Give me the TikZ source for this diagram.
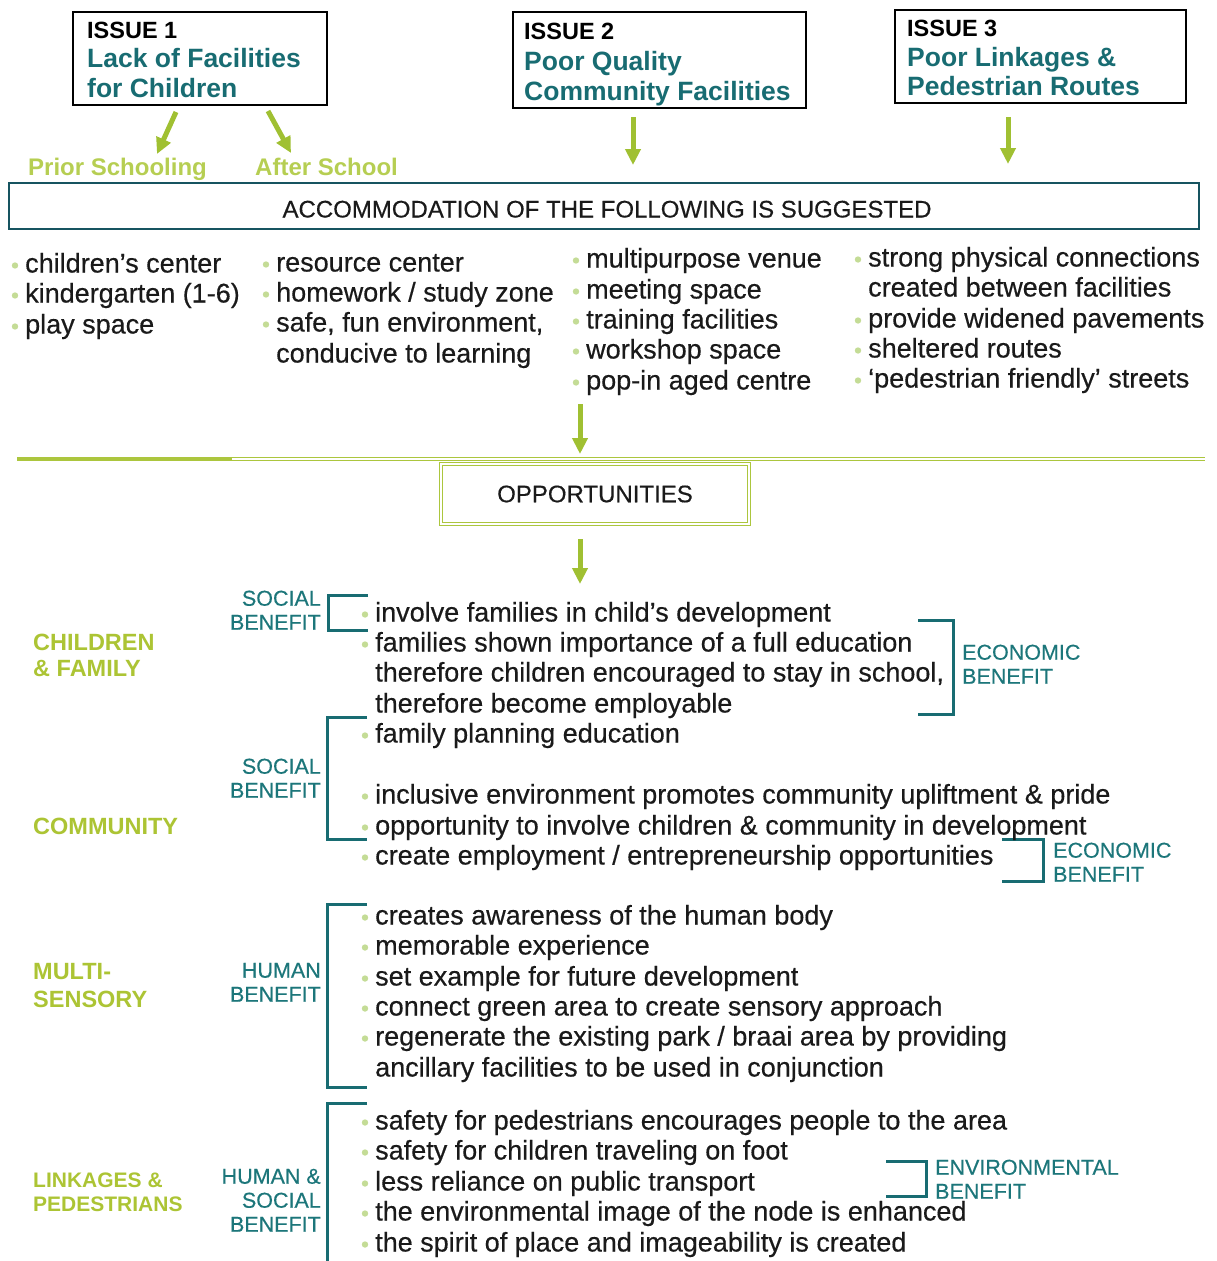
\documentclass[tikz,border=0pt]{standalone}
\usepackage{fontspec}
\setmainfont{Liberation Sans}
\newfontfamily\heavyfont[FakeBold=0.45]{Liberation Sans}
\usetikzlibrary{arrows.meta}
\definecolor{tealc}{RGB}{24,108,114}
\definecolor{tealt}{RGB}{28,118,122}
\definecolor{hdr}{RGB}{22,84,96}
\definecolor{gline}{RGB}{172,198,62}
\definecolor{garr}{RGB}{160,192,50}
\definecolor{glab}{RGB}{172,196,52}
\definecolor{gsub}{RGB}{182,206,82}
\definecolor{bulc}{RGB}{196,220,150}
\definecolor{inkc}{RGB}{26,26,26}
\newcommand\itm[4]{\fill[bulc] (#2-10,#3+2.5) circle (3.2);
  \node[item] (#1) at (#2,#3+9.5) {#4};}
\newcommand\itn[4]{\node[item] (#1) at (#2,#3+9.5) {#4};}
\newcommand\benR[4]{\node[ben, anchor=base east] (#1) at (#2,#3+7.7) {#4};}
\newcommand\benL[4]{\node[ben, anchor=base west] (#1) at (#2,#3+7.7) {#4};}
\begin{document}
\begin{tikzpicture}[x=1pt,y=-1pt,
  item/.style={anchor=base west, inner sep=0pt, text=inkc, font=\heavyfont\fontsize{27}{30}\selectfont},
  issuehd/.style={anchor=base west, inner sep=0pt, text=black, font=\bfseries\fontsize{23.5}{26}\selectfont},
  issuetx/.style={anchor=base west, inner sep=0pt, text=tealc, font=\bfseries\fontsize{26.5}{30}\selectfont},
  ibox/.style={draw=black, line width=2.5pt, rectangle, inner sep=0pt},
  sub/.style={anchor=base west, inner sep=0pt, text=gsub, font=\bfseries\fontsize{24}{27}\selectfont},
  cat/.style={anchor=base west, inner sep=0pt, text=glab, font=\bfseries\fontsize{23.5}{26}\selectfont},
  catsm/.style={anchor=base west, inner sep=0pt, text=glab, font=\bfseries\fontsize{21}{24}\selectfont},
  ben/.style={inner sep=0pt, text=tealt, font=\heavyfont\fontsize{21.5}{24}\selectfont},
  sect/.style={inner sep=0pt, text=inkc, font=\heavyfont\fontsize{24}{27}\selectfont},
  garrow/.style={draw=garr, line width=5pt, -{Triangle[length=16pt,width=15pt]}},
  brk/.style={draw=tealc, line width=3pt, line cap=butt, line join=miter}]
\useasboundingbox (0,0) rectangle (1216,1261);

% ---------- issue boxes ----------
\node[ibox, minimum width=254pt, minimum height=93pt] (b1) at (200,58.5) {};
\node[issuehd] (b1h) at (87,38.5) {ISSUE 1};
\node[issuetx] (b1a) at (87,67.5) {Lack of Facilities};
\node[issuetx] (b1b) at (87,97.5) {for Children};

\node[ibox, minimum width=293pt, minimum height=96pt] (b2) at (659.5,60) {};
\node[issuehd] (b2h) at (524,39.5) {ISSUE 2};
\node[issuetx] (b2a) at (524,70.5) {Poor Quality};
\node[issuetx] (b2b) at (524,100.5) {Community Facilities};

\node[ibox, minimum width=291pt, minimum height=93pt] (b3) at (1040.5,56.5) {};
\node[issuehd] (b3h) at (907,36.5) {ISSUE 3};
\node[issuetx] (b3a) at (907,66.5) {Poor Linkages \&};
\node[issuetx] (b3b) at (907,95.5) {Pedestrian Routes};

% ---------- arrows below issues ----------
\coordinate (a1s) at (176,112);
\coordinate (a1e) at (157,154);
\coordinate (a2s) at (268,111);
\coordinate (a2e) at (291,153);
\coordinate (a3s) at (633,117);
\coordinate (a3e) at (633,165);
\coordinate (a4s) at (1008,117);
\coordinate (a4e) at (1008,164);
\draw[garrow] (a1s) -- (a1e);
\draw[garrow] (a2s) -- (a2e);
\draw[garrow] (a3s) -- (a3e);
\draw[garrow] (a4s) -- (a4e);

\node[sub] (ps) at (28,175) {Prior Schooling};
\node[sub] (as) at (255,175) {After School};

% ---------- header bar ----------
\node[draw=hdr, line width=2.2pt, minimum width=1190pt, minimum height=46pt, inner sep=0pt] (acc) at (604,206) {};
\node[sect, anchor=base] (acct) at (607,217.5) {ACCOMMODATION OF THE FOLLOWING IS SUGGESTED};

% ---------- columns ----------
\itm{c11}{25}{263}{children’s center}
\itm{c12}{25}{293}{kindergarten (1-6)}
\itm{c13}{25}{324}{play space}

\itm{c21}{276}{262}{resource center}
\itm{c22}{276}{292}{homework / study zone}
\itm{c23}{276}{322}{safe, fun environment,}
\itn{c24}{276}{353}{conducive to learning}

\itm{c31}{586}{258}{multipurpose venue}
\itm{c32}{586}{289}{meeting space}
\itm{c33}{586}{319}{training facilities}
\itm{c34}{586}{349}{workshop space}
\itm{c35}{586}{380}{pop-in aged centre}

\itm{c41}{868}{257}{strong physical connections}
\itn{c42}{868}{287}{created between facilities}
\itm{c43}{868}{318}{provide widened pavements}
\itm{c44}{868}{348}{sheltered routes}
\itm{c45}{868}{378}{‘pedestrian friendly’ streets}

% ---------- opportunities ----------
\coordinate (a5s) at (580,404);
\coordinate (a5e) at (580,454);
\draw[garrow] (a5s) -- (a5e);

\draw[draw=gline, line width=4pt] (17,459) -- (232,459);
\draw[draw=gline, line width=1pt, double=white, double distance=1.5pt] (232,459) -- (1205,459);

\node[draw=gline, line width=1pt, double=white, double distance=2pt, minimum width=308pt, minimum height=60pt, inner sep=0pt, sect] (opp) at (595,494) {OPPORTUNITIES};

\coordinate (a6s) at (580,539);
\coordinate (a6e) at (580,584);
\draw[garrow] (a6s) -- (a6e);

% ---------- categories ----------
\node[cat] (k1a) at (33,650.5) {CHILDREN};
\node[cat] (k1b) at (33,676.5) {\& FAMILY};
\node[cat] (k2) at (33,834.5) {COMMUNITY};
\node[cat] (k3a) at (33,979.5) {MULTI-};
\node[cat] (k3b) at (33,1007.5) {SENSORY};
\node[catsm] (k4a) at (33,1187) {LINKAGES \&};
\node[catsm] (k4b) at (33,1211) {PEDESTRIANS};

% ---------- benefit labels ----------
\benR{s1a}{321}{598}{SOCIAL}
\benR{s1b}{321}{622}{BENEFIT}
\benR{s2a}{321}{766}{SOCIAL}
\benR{s2b}{321}{790}{BENEFIT}
\benR{h1a}{321}{970}{HUMAN}
\benR{h1b}{321}{994}{BENEFIT}
\benR{h2a}{321}{1176}{HUMAN \&}
\benR{h2b}{321}{1200}{SOCIAL}
\benR{h2c}{321}{1224}{BENEFIT}
\benL{e1a}{962}{652}{ECONOMIC}
\benL{e1b}{962}{676}{BENEFIT}
\benL{e2a}{1053}{850}{ECONOMIC}
\benL{e2b}{1053}{874}{BENEFIT}
\benL{v1a}{935}{1167}{ENVIRONMENTAL}
\benL{v1b}{935}{1191}{BENEFIT}

% ---------- brackets ----------
\draw[brk] (368,595) -- (328,595) -- (328,630) -- (368,630);
\draw[brk] (367,717) -- (327,717) -- (327,839) -- (367,839);
\draw[brk] (367,904) -- (327,904) -- (327,1087) -- (367,1087);
\draw[brk] (367,1103) -- (327,1103) -- (327,1261);
\draw[brk] (918,620) -- (953,620) -- (953,714) -- (918,714);
\draw[brk] (1002,839) -- (1043,839) -- (1043,881) -- (1002,881);
\draw[brk] (886,1161) -- (926,1161) -- (926,1196) -- (886,1196);

% ---------- opportunity items ----------
\itm{o1}{375}{612}{involve families in child’s development}
\itm{o2}{375}{642}{families shown importance of a full education}
\itn{o3}{375}{672}{therefore children encouraged to stay in school,}
\itn{o4}{375}{703}{therefore become employable}
\itm{o5}{375}{733}{family planning education}
\itm{o6}{375}{794}{inclusive environment promotes community upliftment \& pride}
\itm{o7}{375}{825}{opportunity to involve children \& community in development}
\itm{o8}{375}{855}{create employment / entrepreneurship opportunities}
\itm{o9}{375}{915}{creates awareness of the human body}
\itm{o10}{375}{945}{memorable experience}
\itm{o11}{375}{976}{set example for future development}
\itm{o12}{375}{1006}{connect green area to create sensory approach}
\itm{o13}{375}{1036}{regenerate the existing park / braai area by providing}
\itn{o14}{375}{1067}{ancillary facilities to be used in conjunction}
\itm{o15}{375}{1120}{safety for pedestrians encourages people to the area}
\itm{o16}{375}{1150}{safety for children traveling on foot}
\itm{o17}{375}{1181}{less reliance on public transport}
\itm{o18}{375}{1211}{the environmental image of the node is enhanced}
\itm{o19}{375}{1242}{the spirit of place and imageability is created}
\end{tikzpicture}
\end{document}
